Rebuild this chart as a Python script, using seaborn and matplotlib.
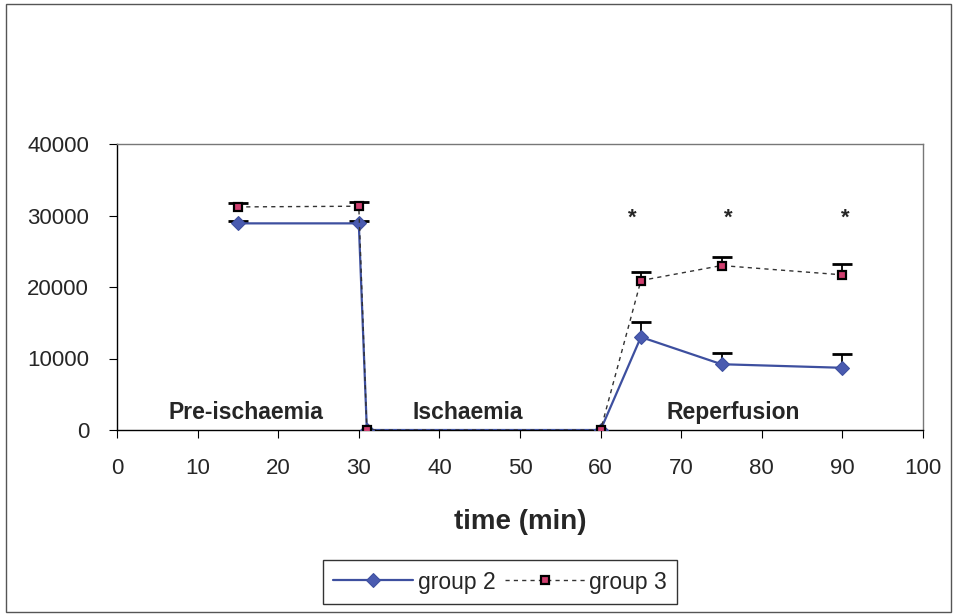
import matplotlib
matplotlib.use("Agg")
import matplotlib.pyplot as plt
import seaborn as sns
import pandas as pd
import numpy as np
from matplotlib.patches import Rectangle

sns.set_style("white")
plt.rcParams['font.family'] = ['Liberation Sans', 'DejaVu Sans']

time = [15, 30, 31, 60, 65, 75, 90]
group2 = [28900, 28900, 0, 0, 13000, 9200, 8700]
group2_err = [400, 400, 0, 0, 2100, 1550, 1950]
group3 = [31200, 31300, 0, 0, 20900, 23000, 21700]
group3_err = [550, 550, 0, 0, 1200, 1150, 1500]
phase_labels = ["Pre-ischaemia", "Ischaemia", "Reperfusion"]
phase_x = [16, 43.5, 76.5]
star_x = [63.9, 75.9, 90.3]
star_y = 28200

df = pd.DataFrame({
    "time": time * 2,
    "value": group2 + group3,
    "group": ["group 2"] * len(time) + ["group 3"] * len(time),
})

fig = plt.figure(figsize=(9.57, 6.16), dpi=100)
fig.patches.append(Rectangle((0.006, 0.006), 0.988, 0.988, transform=fig.transFigure,
                             fill=False, edgecolor="#555555", linewidth=1.0))
ax = fig.add_axes([117/957, 1-430/616, 806/957, 286/616])

blue = "#3d4f9f"
sns.lineplot(data=df[df.group == "group 2"], x="time", y="value", ax=ax,
             color=blue, linewidth=1.6, marker="D", markersize=7,
             markerfacecolor="#4a5bb0", markeredgecolor=blue, label="group 2",
             errorbar=None, legend=False, zorder=3)
sns.lineplot(data=df[df.group == "group 3"], x="time", y="value", ax=ax,
             color="#333333", linewidth=1.0, linestyle=(0, (3, 3)), marker="s", markersize=6,
             markerfacecolor="#d04070", markeredgecolor="black", markeredgewidth=1.6,
             label="group 3", errorbar=None, legend=False, zorder=4)

for vals, errs in [(group2, group2_err), (group3, group3_err)]:
    t = [tt for tt, e in zip(time, errs) if e > 0]
    v = [vv for vv, e in zip(vals, errs) if e > 0]
    e = [ee for ee in errs if ee > 0]
    _, caps, _ = ax.errorbar(t, v, yerr=[np.zeros(len(e)), e], fmt="none", ecolor="black",
                             elinewidth=1.3, capsize=7, capthick=2, zorder=2)
    caps[0].set_visible(False)

for lab, xx in zip(phase_labels, phase_x):
    ax.text(xx, 900, lab, ha="center", va="bottom", fontsize=16.5, fontweight="bold")
for sx in star_x:
    ax.text(sx, star_y, "*", ha="center", va="bottom", fontsize=16, fontweight="bold")

ax.set_xlim(0, 100)
ax.set_ylim(0, 40000)
ax.set_xticks(range(0, 101, 10))
ax.set_yticks(range(0, 40001, 10000))
ax.tick_params(axis="both", labelsize=16, length=6, direction="out", color="black",
               bottom=True, left=True)
ax.tick_params(axis="y", pad=14)
ax.tick_params(axis="x", pad=14)
for s in ["left", "bottom"]:
    ax.spines[s].set_color("black")
    ax.spines[s].set_linewidth(1.0)
for s in ["top", "right"]:
    ax.spines[s].set_color("#777777")
    ax.spines[s].set_linewidth(1.0)
ax.set_xlabel("time (min)", fontsize=20, fontweight="bold", labelpad=22)
ax.set_ylabel("")

handles, labels = ax.get_legend_handles_labels()
leg = fig.legend(handles, labels, loc="center", bbox_to_anchor=(500/957, 1-582/616), ncol=2,
                 fontsize=16.5, frameon=True, fancybox=False, edgecolor="black",
                 handlelength=3.5, columnspacing=0.4, handletextpad=0.2, borderpad=0.45,
                 borderaxespad=0)
leg.get_frame().set_linewidth(1.0)

fig.savefig("out.png", dpi=100)
